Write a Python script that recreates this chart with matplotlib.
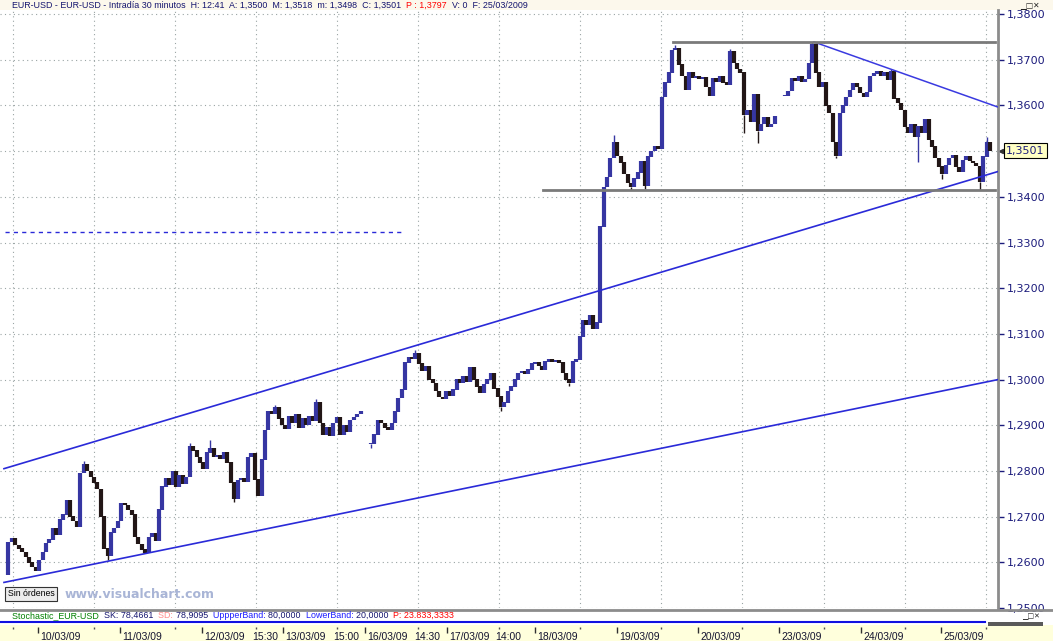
import numpy as np
import matplotlib
matplotlib.use("Agg")
import matplotlib.pyplot as plt
import matplotlib.transforms as mtransforms
from matplotlib.patches import Rectangle
from matplotlib.lines import Line2D

W, H = 1053, 641

# EUR-USD closes (one value per hour), pips above 1.2000; None = no quotes
closes_pips = [
    572, 645, 652, 638, 630, 622, 612, 600, 590, 582, 605, 622,
    642, 650, 675, 660, 694, 705, 737, 700, 690, 678, 795, 815,
    800, 787, 775, 760, 700, 630, 615, 665, 675, 690, 730, 725,
    715, 705, 655, 640, 628, 620, 655, 663, 648, 716, 766, 785,
    770, 800, 765, 790, 772, 787, 855, 845, 831, 818, 805, 840,
    850, 830, 835, 826, 840, 818, 775, 740, 780, 785, 776, 830,
    838, 781, 745, 825, 890, 930, 925, 940, 915, 900, 892, 920,
    905, 925, 895, 915, 900, 920, 910, 950, 905, 880, 895, 878,
    905, 918, 880, 900, 885, 912, 918, 925, 930, None, None, 860,
    880, 910, 905, 895, 890, 905, 930, 960, 978, 1037, 1050, 1045,
    1058, 1035, 1020, 1030, 1000, 993, 975, 962, 958, 975, 965, 978,
    1000, 993, 1007, 995, 1026, 1000, 985, 972, 990, 1000, 1015, 980,
    963, 940, 950, 975, 985, 1000, 1015, 1018, 1012, 1022, 1035, 1037,
    1030, 1022, 1040, 1044, 1038, 1042, 1037, 1015, 1000, 992, 1040, 1044,
    1094, 1130, 1120, 1140, 1112, 1125, 1335, 1422, 1444, 1485, 1520, 1490,
    1475, 1450, 1430, 1422, 1440, 1453, 1478, 1425, 1488, 1500, 1510, 1505,
    1619, 1650, 1672, 1722, 1725, 1690, 1664, 1635, 1672, 1660, 1665, 1658,
    1662, 1641, 1622, 1660, 1652, 1664, 1650, 1645, 1718, 1693, 1680, 1672,
    1580, 1590, 1565, 1625, 1545, 1560, 1575, 1553, 1560, 1577, None, None,
    1622, 1632, 1660, 1655, 1664, 1652, 1658, 1693, 1735, 1672, 1640, 1650,
    1600, 1584, 1520, 1490, 1584, 1600, 1619, 1634, 1648, 1640, 1627, 1619,
    1630, 1664, 1670, 1674, 1665, 1672, 1656, 1676, 1615, 1606, 1590, 1553,
    1540, 1560, 1532, 1555, 1540, 1570, 1525, 1510, 1485, 1466, 1450, 1470,
    1485, 1492, 1465, 1455, 1481, 1488, 1478, 1474, 1468, 1432, 1488, 1520,
    1501,
]

# wicks that reach past the bodies (bar, extreme in pips)
wick_bars = [23, 30, 54, 60, 67, 79, 91, 107, 120, 145, 165, 178, 183, 187, 196,
             212, 216, 220, 236, 243, 259, 267, 274, 285, 287]
wick_pips = [822, 605, 862, 868, 733, 944, 958, 850, 1064, 932, 985, 1535, 1416, 1418, 1733,
             1724, 1540, 1518, 1740, 1484, 1680, 1477, 1440, 1415, 1530]

day_labels = ["10/03/09", "11/03/09", "12/03/09", "13/03/09", "16/03/09", "17/03/09",
              "18/03/09", "19/03/09", "20/03/09", "23/03/09", "24/03/09", "25/03/09"]
day_start_bar = [9.6, 33.6, 57.6, 81.3, 105.3, 129.2, 155, 179, 202.6, 226.3, 250.3, 273.7]
time_labels = ["15:30", "15:00", "14:30", "14:00"]
time_bar = [73.4, 97.1, 120.8, 144.5]

# drawn lines: (bars, prices)
upper_channel = ([-0.3, 290.1], [1.2805, 1.3455])
lower_channel = ([-0.3, 290.3], [1.2556, 1.3000])
falling_line = ([236.5, 290.1], [1.3739, 1.3597])
top_range = ([195.3, 289.3], [1.3739, 1.3739])
bottom_range = ([157.3, 289.5], [1.3416, 1.3416])
dashed_level = ([0, 116], [1.3324, 1.3324])
last_price = 1.3501

header_parts = [
    ("EUR-USD - EUR-USD - Intradía 30 minutos  H: 12:41  A: 1,3500  M: 1,3518  m: 1,3498  C: 1,3501  ", "#14146e"),
    ("P : 1,3797  ", "#ff0000"),
    ("V: 0  F: 25/03/2009", "#14146e"),
]
stoch_parts = [
    ("Stochastic_EUR-USD  ", "#008000"),
    ("SK: 78,4661  ", "#14146e"),
    ("SD: ", "#ff8a8a"),
    ("78,9095  ", "#14146e"),
    ("UppperBand: ", "#1a1aff"),
    ("80,0000  ", "#14146e"),
    ("LowerBand: ", "#1a1aff"),
    ("20,0000  ", "#14146e"),
    ("P: 23.833,3333", "#ff0000"),
]


def fx(px):
    return px / W


def fy(py):
    return 1 - py / H


fig = plt.figure(figsize=(W / 100, H / 100), dpi=100, facecolor="white")

# header strip and date band backgrounds
fig.add_artist(Rectangle((0, fy(10)), 1, 10 / H, transform=fig.transFigure,
                         facecolor="#fcf8ec", edgecolor="none", zorder=0))
fig.add_artist(Rectangle((0, 0), 1, 16 / H, transform=fig.transFigure,
                         facecolor="#ffffdc", edgecolor="none", zorder=0))

ax = fig.add_axes([0, fy(608), fx(998), (608 - 10) / H])
ax.set_facecolor("white")

# candles: open = previous close
closes = [None if c is None else 1.2 + c / 10000 for c in closes_pips]
xs, lo, hi, cols = [], [], [], []
prev = None
for i, c in enumerate(closes):
    if c is None:
        prev = None
        continue
    o = c if prev is None else prev
    xs.append(i)
    lo.append(min(o, c) - 0.00005)
    hi.append(max(o, c) + 0.00005)
    cols.append("#3636a2" if c >= o else "#221616")
    prev = c
col_of = dict(zip(xs, cols))
for b, p in zip(wick_bars, wick_pips):
    ax.vlines(b, closes[b], 1.2 + p / 10000, color=col_of[b], lw=1, zorder=3)
ax.vlines(xs, lo, hi, colors=cols, lw=3.0, zorder=3)

ax.plot(*upper_channel, color="#2a2ad8", lw=1.2, zorder=4)
ax.plot(*lower_channel, color="#2a2ad8", lw=1.2, zorder=4)
ax.plot(*falling_line, color="#3a3ae0", lw=1.1, zorder=4)
ax.plot(*top_range, color="#7a7a7a", lw=2, zorder=4)
ax.plot(*bottom_range, color="#7a7a7a", lw=2, zorder=4)
ax.plot(*dashed_level, color="#2a2ad8", lw=1, ls=(0, (3, 3)), zorder=4)

ax.set_xlim(-1.46, 290.3)
ax.set_ylim(1.2500, 1.3809)

grid_bars = np.arange(2.3, 290, 23.7)
ax.set_xticks(grid_bars)
ax.tick_params(axis="x", bottom=False, labelbottom=False)
yt = np.round(np.arange(1.25, 1.3805, 0.01), 4)
ax.set_yticks(yt)
ax.set_yticklabels(["" if abs(v - last_price) < 0.0005 else f"{v:.4f}".replace(".", ",") for v in yt])
ax.yaxis.tick_right()
ax.tick_params(axis="y", right=True, left=False, length=4, width=1, color="#1c1c7c",
               labelcolor="#1c1c7c", labelsize=8, pad=2)
ax.grid(True, color="#9aa4a4", linestyle=(0, (1, 3)), linewidth=0.8)
ax.set_axisbelow(True)
for s in ["left", "top", "bottom"]:
    ax.spines[s].set_visible(False)
ax.spines["right"].set_color("#8c8c8c")
ax.spines["right"].set_linewidth(2)

# last price tag
trans = mtransforms.blended_transform_factory(ax.transAxes, ax.transData)
ax.text(1.008, last_price, "1,3501", transform=trans, ha="left", va="center", fontsize=8,
        color="#1c1c7c", clip_on=False,
        bbox=dict(boxstyle="square,pad=0.2", fc="#ffffc4", ec="black", lw=0.8))
ax.plot([1.003], [last_price], marker="<", ms=3, color="#333333", transform=trans, clip_on=False)

# separators under the price panel
fig.add_artist(Line2D([0, 1], [fy(609.5)] * 2, color="#8c8c8c", lw=2))
fig.add_artist(Line2D([0, fx(985)], [fy(622)] * 2, color="#1010e0", lw=1.5))
fig.add_artist(Rectangle((fx(988), fy(626)), fx(55), 4 / H, transform=fig.transFigure,
                         facecolor="#5a5a5a", edgecolor="none"))

# date band
dax = fig.add_axes([0, 0, fx(998), 16 / H])
dax.set_xlim(ax.get_xlim())
dax.set_ylim(0, 1)
dax.axis("off")
dax.vlines(day_start_bar, 0.5, 0.9, color="#303030", lw=1)
dax.vlines(grid_bars, 0.75, 0.9, color="#505050", lw=1)
for b, lab in zip(day_start_bar, day_labels):
    dax.text(b + 0.6, 0.27, lab, ha="left", va="center", fontsize=7.5,
             family="Liberation Sans", color="#141430")
for b, lab in zip(time_bar, time_labels):
    dax.text(b - 1.2, 0.27, lab, ha="left", va="center", fontsize=7.5,
             family="Liberation Sans", color="#141430")


def strip_text(x_px, y_px, parts, size):
    r = fig.canvas.get_renderer()
    x = fx(x_px)
    for s, c in parts:
        t = fig.text(x, fy(y_px), s, color=c, fontsize=size, family="Liberation Sans",
                     ha="left", va="center")
        x += t.get_window_extent(r).width / W


strip_text(12, 5.5, header_parts, 6.4)
strip_text(12, 615.5, stoch_parts, 6.4)

fig.text(fx(1020), fy(5.5), "\u2581\u25a1\u2715", fontsize=5.5, color="#222222", va="center")
fig.text(fx(1022), fy(617), "\u2581\u25a1\u2715", fontsize=5, color="#222222", va="center")

fig.text(fx(8), fy(594), "Sin órdenes", fontsize=6.3, family="Liberation Sans", color="black",
         va="center", bbox=dict(boxstyle="square,pad=0.3", fc="#ececec", ec="#333333", lw=0.8))
fig.text(fx(65), fy(595), "www.visualchart.com", fontsize=9, weight="bold", color="#a9b5d6",
         va="center")

fig.savefig("out.png", dpi=100, facecolor="white")
